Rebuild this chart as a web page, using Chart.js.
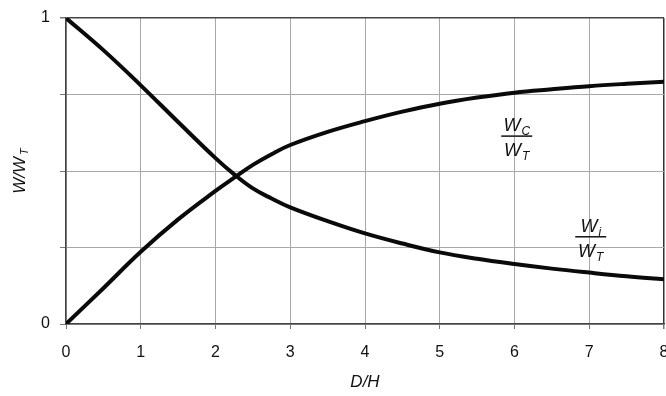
<!DOCTYPE html>
<html><head><meta charset="utf-8">
<script src="https://cdn.jsdelivr.net/npm/chart.js@4"></script>
<style>html,body{margin:0;padding:0;background:#fff}#w{width:666px;height:396px}</style>
</head><body><div id="w"><canvas id="c" width="666" height="396"></canvas></div>
<script>
const dh = [0, 0.5, 1, 1.5, 2, 2.25, 2.5, 2.75, 3, 3.5, 4, 4.5, 5, 5.5, 6, 6.5, 7, 7.5, 8];
const wc = [0, 0.117, 0.236, 0.342, 0.435, 0.478, 0.52, 0.555, 0.585, 0.628, 0.663, 0.694, 0.72, 0.74, 0.756, 0.767, 0.777, 0.785, 0.792];
const wi = [1, 0.895, 0.78, 0.66, 0.542, 0.489, 0.443, 0.41, 0.381, 0.336, 0.296, 0.263, 0.234, 0.213, 0.196, 0.181, 0.168, 0.156, 0.146];
const yTickLabels = {0: '0', 1: '1'};
const labelWc = {x: 6.03, num: 'W', numSub: 'C', den: 'W', denSub: 'T', yLine: 0.614};
const labelWi = {x: 7.02, num: 'W', numSub: 'i', den: 'W', denSub: 'T', yLine: 0.285};

const FONT = '"Liberation Sans", Arial, sans-serif';

function drawSub(ctx, x, y, main, sub, size, align) {
  ctx.font = 'italic ' + size + 'px ' + FONT;
  const wm = ctx.measureText(main).width;
  ctx.font = 'italic ' + Math.round(size * 0.68) + 'px ' + FONT;
  const ws = ctx.measureText(sub).width;
  const total = wm + ws + 1;
  let x0 = align === 'center' ? x - total / 2 : x;
  ctx.textAlign = 'left';
  ctx.textBaseline = 'alphabetic';
  ctx.font = 'italic ' + size + 'px ' + FONT;
  ctx.fillText(main, x0, y);
  ctx.font = 'italic ' + Math.round(size * 0.68) + 'px ' + FONT;
  ctx.fillText(sub, x0 + wm + 1, y + size * 0.22);
  return total;
}

const labelsPlugin = {
  id: 'fracLabels',
  afterDatasetsDraw(chart) {
    const ctx = chart.ctx, xs = chart.scales.x, ys = chart.scales.y;
    ctx.save();
    ctx.fillStyle = '#111';
    ctx.strokeStyle = '#111';
    [labelWc, labelWi].forEach(l => {
      const cx = xs.getPixelForValue(l.x);
      const ly = ys.getPixelForValue(l.yLine);
      ctx.lineWidth = 1.5;
      ctx.beginPath();
      ctx.moveTo(cx - 15.5, ly);
      ctx.lineTo(cx + 15.5, ly);
      ctx.stroke();
      drawSub(ctx, cx, ly - 5, l.num, l.numSub, 18, 'center');
      drawSub(ctx, cx, ly + 20, l.den, l.denSub, 18, 'center');
    });
    // y axis title
    const cy = (chart.chartArea.top + chart.chartArea.bottom) / 2;
    ctx.translate(25, cy);
    ctx.rotate(-Math.PI / 2);
    ctx.font = 'italic 17px ' + FONT;
    const w1 = ctx.measureText('W/W').width;
    ctx.font = 'italic 11px ' + FONT;
    const w2 = ctx.measureText('T').width;
    const tot = w1 + w2 + 2;
    ctx.font = 'italic 17px ' + FONT;
    ctx.textAlign = 'left';
    ctx.fillText('W/W', -tot / 2, 0);
    ctx.font = 'italic 11px ' + FONT;
    ctx.fillText('T', -tot / 2 + w1 + 2, 3);
    ctx.restore();
  }
};

new Chart(document.getElementById('c'), {
  type: 'line',
  data: {
    datasets: [
      {label: 'Wc/WT', data: dh.map((x, i) => ({x, y: wc[i]})), borderColor: '#0a0a0a', borderWidth: 4, pointRadius: 0, tension: 0.4, fill: false},
      {label: 'Wi/WT', data: dh.map((x, i) => ({x, y: wi[i]})), borderColor: '#0a0a0a', borderWidth: 4, pointRadius: 0, tension: 0.4, fill: false}
    ]
  },
  options: {
    responsive: false,
    animation: false,
    layout: {padding: {top: 18, right: 2, left: 0, bottom: 0}},
    plugins: {legend: {display: false}, tooltip: {enabled: false}},
    scales: {
      x: {
        type: 'linear', min: 0, max: 8,
        ticks: {stepSize: 1, color: '#111', font: {family: FONT, size: 16}, padding: 14, maxRotation: 0},
        grid: {color: ctx => (ctx.tick && ctx.tick.value === 8) ? '#333' : '#a8a8a8', lineWidth: ctx => (ctx.tick && ctx.tick.value === 8) ? 1.5 : 1, tickLength: 5, tickColor: '#777'},
        border: {color: '#444', width: 1.5},
        title: {display: true, text: 'D/H', color: '#111', font: {family: FONT, size: 17, style: 'italic'}, padding: {top: 4}},
        afterFit(s) { s.height = 72; s.paddingRight = 0; s.paddingLeft = 0; }
      },
      y: {
        min: 0, max: 1,
        ticks: {stepSize: 0.25, color: '#111', font: {family: FONT, size: 16}, padding: 10,
          callback: v => (yTickLabels[v] !== undefined ? yTickLabels[v] : '')},
        grid: {color: ctx => (ctx.tick && ctx.tick.value === 1) ? '#444' : '#a8a8a8', lineWidth: ctx => (ctx.tick && ctx.tick.value === 1) ? 1.5 : 1, tickLength: 6, tickColor: '#777'},
        border: {color: '#444', width: 1.5},
        afterFit(s) { s.width = 66; s.paddingTop = 0; s.paddingBottom = 0; }
      }
    }
  },
  plugins: [labelsPlugin]
});
</script>
</body></html>
